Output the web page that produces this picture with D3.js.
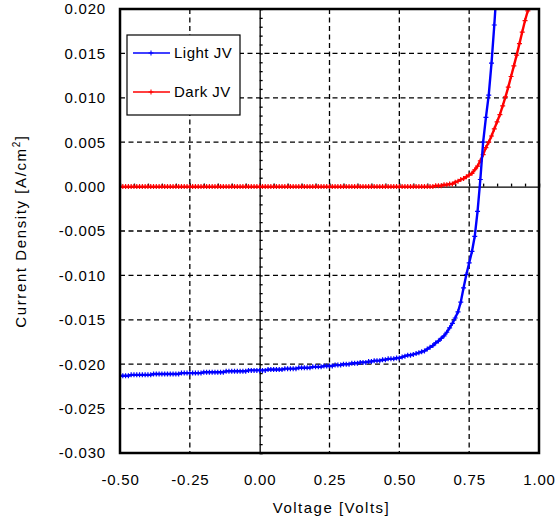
<!DOCTYPE html>
<html>
<head>
<meta charset="utf-8">
<script src="https://cdn.jsdelivr.net/npm/d3@7"></script>
<style>
  body { margin: 0; background: #fff; }
  text { font-family: "Liberation Sans", Arial, sans-serif; fill: #000; }
</style>
</head>
<body>
<div id="chart"></div>
<script>
// Data
var voltage = [
  -0.50, -0.49, -0.48, -0.47, -0.46, -0.45, -0.44, -0.43, -0.42, -0.41,
  -0.40, -0.39, -0.38, -0.37, -0.36, -0.35, -0.34, -0.33, -0.32, -0.31,
  -0.30, -0.29, -0.28, -0.27, -0.26, -0.25, -0.24, -0.23, -0.22, -0.21,
  -0.20, -0.19, -0.18, -0.17, -0.16, -0.15, -0.14, -0.13, -0.12, -0.11,
  -0.10, -0.09, -0.08, -0.07, -0.06, -0.05, -0.04, -0.03, -0.02, -0.01,
  0.00, 0.01, 0.02, 0.03, 0.04, 0.05, 0.06, 0.07, 0.08, 0.09,
  0.10, 0.11, 0.12, 0.13, 0.14, 0.15, 0.16, 0.17, 0.18, 0.19,
  0.20, 0.21, 0.22, 0.23, 0.24, 0.25, 0.26, 0.27, 0.28, 0.29,
  0.30, 0.31, 0.32, 0.33, 0.34, 0.35, 0.36, 0.37, 0.38, 0.39,
  0.40, 0.41, 0.42, 0.43, 0.44, 0.45, 0.46, 0.47, 0.48, 0.49,
  0.50, 0.51, 0.52, 0.53, 0.54, 0.55, 0.56, 0.57, 0.58, 0.59,
  0.60, 0.61, 0.62, 0.63, 0.64, 0.65, 0.66, 0.67, 0.68, 0.69,
  0.70, 0.71, 0.72, 0.73, 0.74, 0.75, 0.76, 0.77, 0.78, 0.79,
  0.80, 0.81, 0.82, 0.83, 0.84, 0.85, 0.86, 0.87, 0.88, 0.89,
  0.90, 0.91, 0.92, 0.93, 0.94, 0.95, 0.96, 0.97
];

// Light JV (A/cm2), same index as voltage
var lightJ = [
  -0.0213, -0.0213, -0.0213, -0.0213, -0.0212, -0.0212, -0.0212, -0.0212, -0.0212, -0.0212,
  -0.0212, -0.0212, -0.0211, -0.0211, -0.0211, -0.0211, -0.0211, -0.0211, -0.0211, -0.0211,
  -0.0211, -0.0211, -0.0210, -0.0210, -0.0210, -0.0210, -0.0210, -0.0210, -0.0210, -0.0210,
  -0.0209, -0.0209, -0.0209, -0.0209, -0.0209, -0.0209, -0.0209, -0.0209, -0.0208, -0.0208,
  -0.0208, -0.0208, -0.0208, -0.0208, -0.0208, -0.0208, -0.0207, -0.0207, -0.0207, -0.0207,
  -0.0207, -0.0207, -0.0207, -0.0206, -0.0206, -0.0206, -0.0206, -0.0206, -0.0206, -0.0205,
  -0.0205, -0.0205, -0.0205, -0.0205, -0.0204, -0.0204, -0.0204, -0.0204, -0.0204, -0.0203,
  -0.0203, -0.0203, -0.0203, -0.0202, -0.0202, -0.0202, -0.0202, -0.0201, -0.0201, -0.0201,
  -0.0200, -0.0200, -0.0200, -0.0199, -0.0199, -0.0199, -0.0198, -0.0198, -0.0198, -0.0197,
  -0.0197, -0.0196, -0.0196, -0.0196, -0.0195, -0.0195, -0.0194, -0.0194, -0.0194, -0.0193,
  -0.0193, -0.0192, -0.0191, -0.0190, -0.0190, -0.0189, -0.0188, -0.0187, -0.0186, -0.0185,
  -0.0183, -0.0181, -0.0179, -0.0176, -0.0174, -0.0171, -0.0168, -0.0164, -0.0159, -0.0154,
  -0.0148, -0.0141, -0.0130, -0.0114, -0.0099, -0.0086, -0.0073, -0.0056, -0.0028, 0.0008,
  0.0050, 0.0078, 0.0103, 0.0139, 0.0182, 0.0230
];

// Dark JV (A/cm2), same index as voltage
var darkJ = [
  0, 0, 0, 0, 0, 0, 0, 0, 0, 0,
  0, 0, 0, 0, 0, 0, 0, 0, 0, 0,
  0, 0, 0, 0, 0, 0, 0, 0, 0, 0,
  0, 0, 0, 0, 0, 0, 0, 0, 0, 0,
  0, 0, 0, 0, 0, 0, 0, 0, 0, 0,
  0, 0, 0, 0, 0, 0, 0, 0, 0, 0,
  0, 0, 0, 0, 0, 0, 0, 0, 0, 0,
  0, 0, 0, 0, 0, 0, 0, 0, 0, 0,
  0, 0, 0, 0, 0, 0, 0, 0, 0, 0,
  0, 0, 0, 0, 0, 0, 0, 0, 0, 0,
  0, 0, 0, 0, 0, 0, 0, 0, 0, 0,
  0, 0, 0, 0.0001, 0.0001, 0.0001, 0.0002, 0.0002, 0.0003, 0.0003,
  0.0005, 0.0006, 0.0008, 0.0009, 0.0011, 0.0013, 0.0015, 0.0019, 0.0023, 0.0029,
  0.0036, 0.0044, 0.0050, 0.0057, 0.0065, 0.0073, 0.0081, 0.0091, 0.0101, 0.0112,
  0.0124, 0.0136, 0.0148, 0.0161, 0.0174, 0.0187, 0.0198, 0.0210
];

var xTicks = [-0.5, -0.25, 0, 0.25, 0.5, 0.75, 1.0];
var yTicks = [0.02, 0.015, 0.01, 0.005, 0, -0.005, -0.01, -0.015, -0.02, -0.025, -0.03];

var seriesNames = ["Light JV", "Dark JV"];
var seriesColors = ["#0000ff", "#ff0000"];

// Width and height
var svgWidth = 558;
var svgHeight = 525;

var margin = { top: 9, right: 19, bottom: 72, left: 120 };
var width = svgWidth - margin.left - margin.right;
var height = svgHeight - margin.top - margin.bottom;

var svg = d3.select("#chart")
  .append("svg")
  .attr("width", svgWidth)
  .attr("height", svgHeight);

var chartGroup = svg.append("g")
  .attr("transform", `translate(${margin.left}, ${margin.top})`);

// Scales
var xScale = d3.scaleLinear().domain([-0.5, 1.0]).range([0, width]);
var yScale = d3.scaleLinear().domain([-0.03, 0.02]).range([height, 0]);

// Dashed grid
chartGroup.selectAll(".vgrid")
  .data(xTicks.filter(d => d !== 0 && d !== -0.5 && d !== 1.0))
  .enter().append("line")
  .attr("x1", d => xScale(d)).attr("x2", d => xScale(d))
  .attr("y1", 0).attr("y2", height)
  .attr("stroke", "#000").attr("stroke-width", 1.3)
  .attr("stroke-dasharray", "5,3.5");

chartGroup.selectAll(".hgrid")
  .data(yTicks.filter(d => d !== 0 && d !== 0.02 && d !== -0.03))
  .enter().append("line")
  .attr("x1", 0).attr("x2", width)
  .attr("y1", d => yScale(d)).attr("y2", d => yScale(d))
  .attr("stroke", "#000").attr("stroke-width", 1.3)
  .attr("stroke-dasharray", "5,3.5");

// Zero lines with minor ticks
var zeroAxisX = d3.axisTop(xScale)
  .tickValues(d3.range(-0.5, 1.0001, 0.05))
  .tickSize(3).tickFormat("");
chartGroup.append("g")
  .attr("transform", `translate(0, ${yScale(0)})`)
  .call(zeroAxisX)
  .call(g => g.selectAll("path,line").attr("stroke", "#000").attr("stroke-width", 1.3));

var zeroAxisY = d3.axisRight(yScale)
  .tickValues(d3.range(-0.03, 0.02001, 0.001))
  .tickSize(3).tickFormat("");
chartGroup.append("g")
  .attr("transform", `translate(${xScale(0)}, 0)`)
  .call(zeroAxisY)
  .call(g => g.selectAll("path,line").attr("stroke", "#000").attr("stroke-width", 1.3));

// Clip for curves
svg.append("defs").append("clipPath").attr("id", "plotClip")
  .append("rect").attr("x", 0).attr("y", 0).attr("width", width).attr("height", height);

var curves = chartGroup.append("g").attr("clip-path", "url(#plotClip)");
var cross = "M-2.5,0H2.5M0,-2.5V2.5";

[darkJ, lightJ].forEach(function (vals, k) {
  var color = k === 0 ? seriesColors[1] : seriesColors[0];
  var pts = vals.map((j, i) => [voltage[i], j]);
  curves.append("path")
    .datum(pts)
    .attr("fill", "none")
    .attr("stroke", color)
    .attr("stroke-width", 2.4)
    .attr("d", d3.line().x(d => xScale(d[0])).y(d => yScale(d[1])));
  curves.selectAll(null)
    .data(pts)
    .enter().append("path")
    .attr("d", cross)
    .attr("transform", d => `translate(${xScale(d[0])}, ${yScale(d[1])})`)
    .attr("stroke", color)
    .attr("stroke-width", 1.2)
    .attr("fill", "none");
});

// Frame
chartGroup.append("rect")
  .attr("x", 0).attr("y", 0)
  .attr("width", width).attr("height", height)
  .attr("fill", "none")
  .attr("stroke", "#000")
  .attr("stroke-width", 2.5);

// Tick labels
chartGroup.append("g")
  .call(d3.axisLeft(yScale).tickValues(yTicks).tickSize(0).tickPadding(14)
    .tickFormat(d => d.toFixed(3)))
  .call(g => g.select(".domain").remove())
  .call(g => g.selectAll("text")
    .style("font-family", "'Liberation Sans', Arial, sans-serif")
    .style("font-size", "15px").style("letter-spacing", "0.8px").attr("fill", "#000"));

chartGroup.append("g")
  .attr("transform", `translate(0, ${height})`)
  .call(d3.axisBottom(xScale).tickValues(xTicks).tickSize(0).tickPadding(21)
    .tickFormat(d => d.toFixed(2)))
  .call(g => g.select(".domain").remove())
  .call(g => g.selectAll("text")
    .style("font-family", "'Liberation Sans', Arial, sans-serif")
    .style("font-size", "15px").style("letter-spacing", "0.8px").attr("fill", "#000"));

// Axis titles
chartGroup.append("text")
  .attr("x", width / 2 + 2)
  .attr("y", height + 60)
  .attr("text-anchor", "middle")
  .style("font-size", "15px")
  .style("letter-spacing", "1.5px")
  .text("Voltage [Volts]");

var yTitle = chartGroup.append("text")
  .attr("transform", `translate(${-margin.left + 26}, ${height / 2}) rotate(-90)`)
  .attr("text-anchor", "middle")
  .style("font-size", "15px")
  .style("letter-spacing", "1.6px");
yTitle.append("tspan").text("Current Density [A/cm");
yTitle.append("tspan").attr("dy", -6).style("font-size", "10px").text("2");
yTitle.append("tspan").attr("dy", 6).text("]");

// Legend
var legend = chartGroup.append("g").attr("transform", "translate(7, 26)");
legend.append("rect")
  .attr("width", 113).attr("height", 80)
  .attr("fill", "#fff").attr("stroke", "#000").attr("stroke-width", 1.2);

seriesNames.forEach(function (name, i) {
  var ly = 18 + i * 39;
  legend.append("line")
    .attr("x1", 6).attr("x2", 43).attr("y1", ly).attr("y2", ly)
    .attr("stroke", seriesColors[i]).attr("stroke-width", 1.5);
  legend.append("path")
    .attr("d", cross)
    .attr("transform", `translate(24, ${ly})`)
    .attr("stroke", seriesColors[i]).attr("stroke-width", 1.1);
  legend.append("text")
    .attr("x", 47).attr("y", ly + 5)
    .style("font-size", "15px")
    .style("letter-spacing", "0.5px")
    .text(name);
});
</script>
</body>
</html>
